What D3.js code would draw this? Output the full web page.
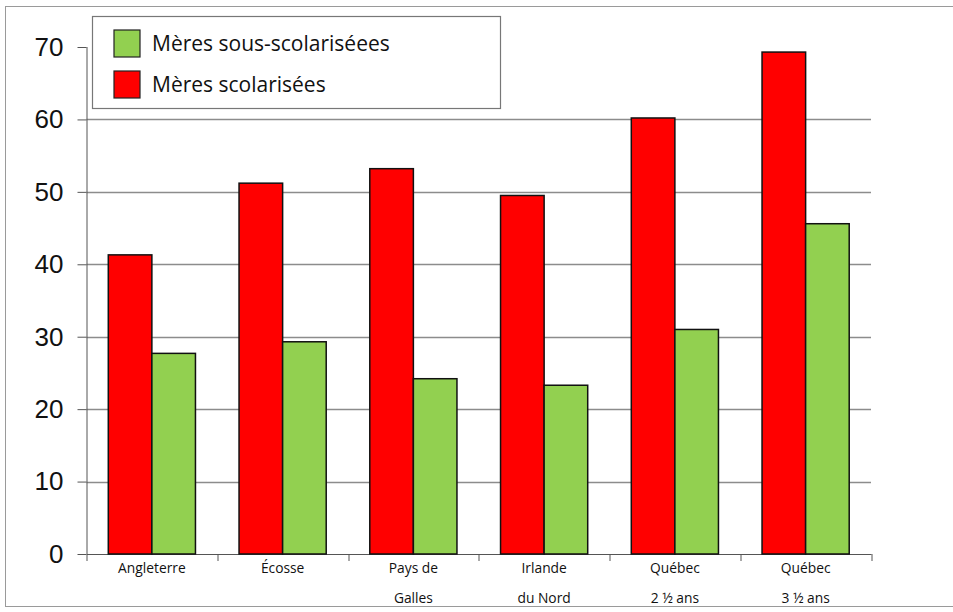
<!DOCTYPE html>
<html>
<head>
<meta charset="utf-8">
<script src="https://cdn.jsdelivr.net/npm/d3@7"></script>
<style>
  body { margin: 0; background: #fff; }
</style>
</head>
<body>
<svg width="953" height="612"></svg>
<script>
// data
var categories = [["Angleterre"], ["Écosse"], ["Pays de", "Galles"], ["Irlande", "du Nord"], ["Québec", "2 ½ ans"], ["Québec", "3 ½ ans"]];
var scolarisees = [41.3, 51.2, 53.2, 49.5, 60.2, 69.3];
var sousScolarisees = [27.7, 29.3, 24.2, 23.3, 31.0, 45.6];
var yTicks = [0, 10, 20, 30, 40, 50, 60, 70];
var seriesNames = ["Mères sous-scolariséees", "Mères scolarisées"];

var svg = d3.select("svg");
var margin = {top: 47, left: 86.5, right: 82, bottom: 58};
var width = 953 - margin.left - margin.right,
    height = 612 - margin.top - margin.bottom;

// outer frame (right edge runs off the picture)
svg.append("rect")
  .attr("x", 5.5).attr("y", 6.5)
  .attr("width", 960).attr("height", 600)
  .attr("fill", "none").attr("stroke", "#9a9a9a");

var g = svg.append("g").attr("transform", "translate(" + margin.left + "," + margin.top + ")");

var keys = categories.map(function(d) { return d.join(" "); });
var x = d3.scaleBand().domain(keys).range([0, width]);
var xs = d3.scaleBand().domain(["red", "green"]).range([0, x.bandwidth()]).paddingInner(0).paddingOuter(0.5);
var y = d3.scaleLinear().domain([0, 70]).range([height, 0]);

// grid lines
g.append("g")
  .selectAll("line")
  .data(yTicks.filter(function(d) { return d > 0 && d < 70; }))
  .enter().append("line")
  .attr("x1", 0).attr("x2", width)
  .attr("y1", function(d) { return Math.round(y(d)) + 0.5; })
  .attr("y2", function(d) { return Math.round(y(d)) + 0.5; })
  .attr("stroke", "#8c8c8c").attr("stroke-width", 1.3);

// y axis
var yAxis = g.append("g")
  .call(d3.axisLeft(y).tickValues(yTicks).tickSize(9).tickPadding(14).tickFormat(d3.format("d")));
yAxis.select(".domain").attr("stroke", "#555").attr("d", "M0.5," + y(70) + "V" + height);
yAxis.selectAll(".tick line").attr("stroke", "#555");
yAxis.selectAll("text")
  .attr("font-family", "Liberation Sans, Arial, sans-serif")
  .attr("font-size", 26).attr("fill", "#111");

// x axis
var xAxis = g.append("g")
  .attr("transform", "translate(0," + height + ")")
  .call(d3.axisBottom(x).tickSize(0).tickFormat(""));
xAxis.select(".domain").attr("stroke", "#555");
g.append("g")
  .selectAll("line")
  .data(d3.range(keys.length + 1))
  .enter().append("line")
  .attr("x1", function(i) { return Math.round(i * x.bandwidth()) + 0.5; })
  .attr("x2", function(i) { return Math.round(i * x.bandwidth()) + 0.5; })
  .attr("y1", height).attr("y2", height + 7)
  .attr("stroke", "#555");

// category labels
var labels = g.append("g")
  .selectAll("text")
  .data(categories)
  .enter().append("text")
  .attr("text-anchor", "middle")
  .attr("font-family", "Open Sans, Noto Sans, sans-serif")
  .attr("font-size", 13.8).attr("fill", "#111")
  .attr("transform", function(d, i) { return "translate(" + (x(keys[i]) + x.bandwidth() / 2) + "," + (height + 19) + ")"; });
labels.selectAll("tspan")
  .data(function(d) { return d; })
  .enter().append("tspan")
  .attr("x", 0)
  .attr("y", function(d, i) { return i * 30; })
  .text(function(d) { return d; });

// bars
var groups = g.append("g").selectAll("g")
  .data(keys)
  .enter().append("g")
  .attr("transform", function(d) { return "translate(" + x(d) + ",0)"; });

groups.append("rect")
  .attr("x", xs("red"))
  .attr("width", xs.bandwidth())
  .attr("y", function(d, i) { return y(scolarisees[i]); })
  .attr("height", function(d, i) { return height - y(scolarisees[i]); })
  .attr("fill", "#ff0000").attr("stroke", "#111").attr("stroke-width", 1.5);

groups.append("rect")
  .attr("x", xs("green"))
  .attr("width", xs.bandwidth())
  .attr("y", function(d, i) { return y(sousScolarisees[i]); })
  .attr("height", function(d, i) { return height - y(sousScolarisees[i]); })
  .attr("fill", "#92d050").attr("stroke", "#111").attr("stroke-width", 1.5);

// legend
var legend = svg.append("g");
legend.append("rect")
  .attr("x", 92.5).attr("y", 16.5)
  .attr("width", 408).attr("height", 92)
  .attr("fill", "#fff").attr("stroke", "#777").attr("stroke-width", 1.2);
var items = legend.selectAll(".item")
  .data(seriesNames)
  .enter().append("g")
  .attr("class", "item")
  .attr("transform", function(d, i) { return "translate(114," + (30 + i * 41) + ")"; });
items.append("rect")
  .attr("width", 26).attr("height", 27)
  .attr("fill", function(d, i) { return i === 0 ? "#92d050" : "#ff0000"; })
  .attr("stroke", "#222").attr("stroke-width", 1.2);
items.append("text")
  .attr("x", 38).attr("y", 21)
  .attr("font-family", "Open Sans, Noto Sans, sans-serif")
  .attr("font-size", 21).attr("fill", "#111")
  .text(function(d) { return d; });
</script>
</body>
</html>
